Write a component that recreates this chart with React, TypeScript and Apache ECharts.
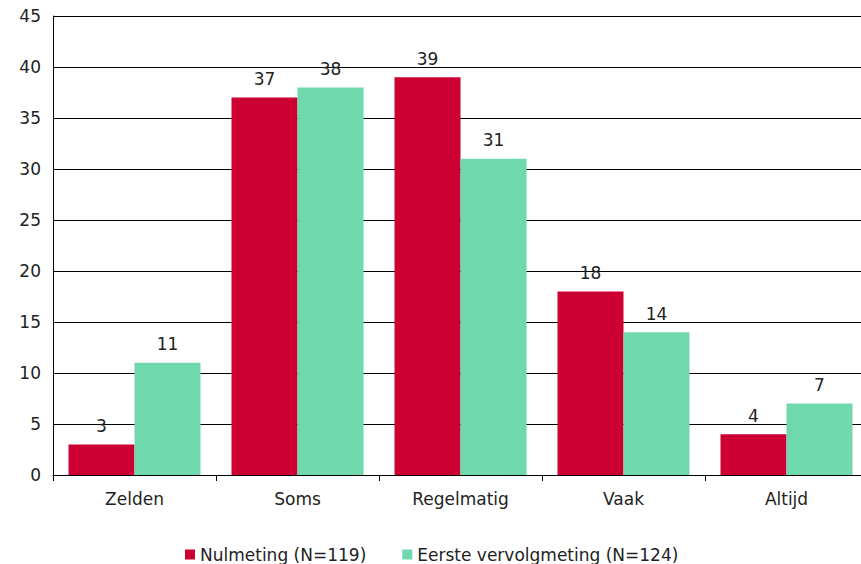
import React, { useEffect, useRef } from "react";
import * as echarts from "echarts";

const categories = ["Zelden", "Soms", "Regelmatig", "Vaak", "Altijd"];
const nulmeting = [3, 37, 39, 18, 4];
const vervolgmeting = [11, 38, 31, 14, 7];
const seriesNames = ["Nulmeting (N=119)", "Eerste vervolgmeting (N=124)"];

export default function App() {
  const ref = useRef<HTMLDivElement>(null);
  useEffect(() => {
    if (!ref.current) return;
    const chart = echarts.init(ref.current, undefined, { renderer: "svg" });
    const font = "Verdana, 'DejaVu Sans', sans-serif";
    const fs = 17;
    const label = {
      show: true,
      position: "top" as const,
      distance: 10,
      color: "#222",
      fontSize: fs,
      fontFamily: font,
    };
    chart.setOption({
      animation: false,
      textStyle: { fontFamily: font },
      grid: { left: 53, top: 16, right: 0, bottom: 89, containLabel: false },
      legend: {
        top: 541,
        left: 180,
        itemWidth: 10,
        itemHeight: 10,
        itemGap: 36,
        icon: "rect",
        textStyle: { fontSize: fs, color: "#222", fontFamily: font },
        data: seriesNames,
      },
      xAxis: {
        type: "category",
        data: categories,
        axisLine: { lineStyle: { color: "#000", width: 1 } },
        axisTick: { show: true, length: 6, lineStyle: { color: "#000" } },
        axisLabel: { fontSize: fs, color: "#222", margin: 15, fontFamily: font },
      },
      yAxis: {
        type: "value",
        min: 0,
        max: 45,
        interval: 5,
        axisLine: { show: true, lineStyle: { color: "#000", width: 1 } },
        axisTick: { show: false },
        axisLabel: { fontSize: fs, color: "#222", margin: 12, fontFamily: font },
        splitLine: { show: true, lineStyle: { color: "#000", width: 1 } },
      },
      series: [
        {
          name: seriesNames[0],
          type: "bar",
          data: nulmeting,
          barWidth: 66,
          barGap: "0%",
          itemStyle: { color: "#CC0033" },
          label,
        },
        {
          name: seriesNames[1],
          type: "bar",
          data: vervolgmeting,
          barWidth: 66,
          barGap: "0%",
          itemStyle: { color: "#70D8AD" },
          label,
        },
      ],
    });
    return () => chart.dispose();
  }, []);
  return (
    <div
      style={{ position: "fixed", left: 0, top: 0, width: 861, height: 564, overflow: "hidden", background: "#fff" }}
    >
      <div ref={ref} style={{ position: "absolute", left: 0, top: 0, width: 868, height: 564 }} />
    </div>
  );
}
